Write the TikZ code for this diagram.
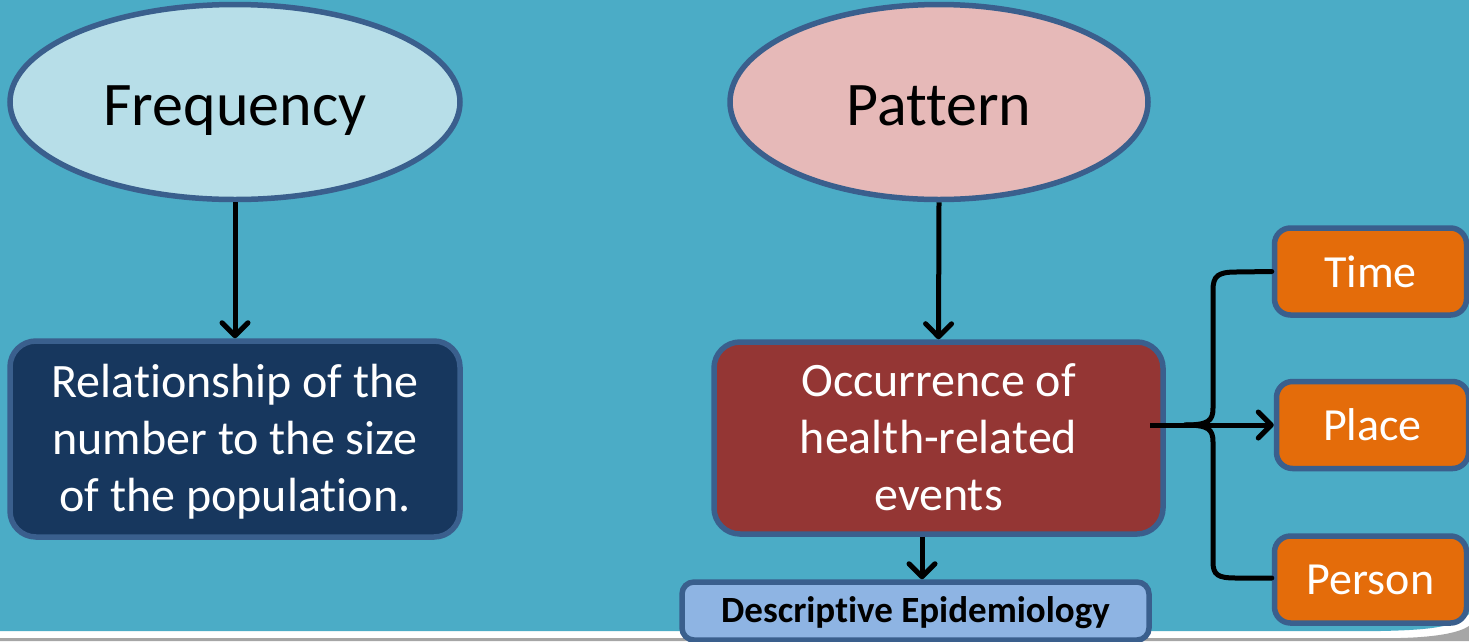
\documentclass[tikz,border=0pt]{standalone}
\usepackage{fontspec}
\setmainfont{Carlito}[Ligatures=NoCommon]
\usetikzlibrary{shapes.geometric,arrows.meta}
\definecolor{bg}{HTML}{4BACC6}
\definecolor{bord}{HTML}{3A5F8D}
\definecolor{freqfill}{HTML}{B7DEE8}
\definecolor{patfill}{HTML}{E6B9B8}
\definecolor{relfill}{HTML}{17375E}
\definecolor{occfill}{HTML}{943634}
\definecolor{descfill}{HTML}{8EB4E3}
\definecolor{orangefill}{HTML}{E46C0A}
\definecolor{grayline}{HTML}{A6A6A6}
\newcommand\shiftdown[2]{\raisebox{-#1}[\height][\depth]{\begin{tabular}{@{}c@{}}#2\end{tabular}}}
\begin{document}
\begin{tikzpicture}[x=1pt,y=-1pt,
  ell/.style={ellipse, draw=bord, line width=5.5pt, inner sep=0pt, text height=46pt, text depth=0pt, font=\fontsize{62}{74}\selectfont},
  rbox/.style={rectangle, rounded corners=26pt, draw=bord, line width=5.5pt, inner sep=0pt, align=center},
  obox/.style={rbox, fill=orangefill, rounded corners=16pt, minimum width=192pt, minimum height=87pt, text=white, font=\fontsize{46}{55}\selectfont},
  arr/.style={line width=5pt, -{Straight Barb[length=13pt,width=26pt,line cap=round,line join=round]}},
  brace/.style={line width=5pt, line cap=round}
]
\useasboundingbox (0,0) rectangle (1469,641);
% background
\fill[white] (0,0) rectangle (1469,641);
\fill[grayline] (0,638) -- (1400,638) .. controls (1440,637) and (1460,632) .. (1469,626) -- (1469,641) -- (0,641) -- cycle;
\fill[bg] (0,0) -- (1469,0) -- (1469,614) .. controls (1456,627) and (1430,630) .. (1380,631) -- (0,631) -- cycle;

% nodes
\node[ell, fill=freqfill, minimum width=450pt, minimum height=195pt] (freq) at (235,102) {Frequency};
\node[ell, fill=patfill, minimum width=418pt, minimum height=195pt] (pat) at (939,102) {Pattern};
\node[rbox, fill=relfill, text=white, minimum width=450pt, minimum height=196pt, font=\fontsize{48}{57}\selectfont] (rel) at (235,439) {\shiftdown{4pt}{Relationship of the\\number to the size\\of the population.}};
\node[rbox, fill=occfill, text=white, minimum width=449pt, minimum height=192pt, font=\fontsize{48}{57}\selectfont] (occ) at (938.5,438) {\shiftdown{4pt}{Occurrence of\\health-related\\events}};
\node[rbox, fill=descfill, rounded corners=12pt, minimum width=467pt, minimum height=58pt, font=\bfseries\fontsize{37}{44}\selectfont] (desc) at (915.5,611) {\shiftdown{3pt}{Descriptive Epidemiology}};
\node[obox] (time) at (1370.5,271.5) {Time};
\node[obox] (place) at (1372.5,425) {Place};
\node[obox] (person) at (1370.5,579.5) {Person};

% connectors
\draw[arr] (freq.south) -- (rel.north);
\draw[arr] (pat.south) -- (occ.north);
\draw[arr] ([xshift=-16.5pt]occ.south) -- ([xshift=-16.5pt]occ.south |- desc.north);
\coordinate (bs) at (1150,425);
\coordinate (bm) at (1185,425);
\draw[arr] (bs) -- (place.west);
\draw[brace] (bm) .. controls (1208,425) and (1213,421) .. (1213,408) -- (1213,290) .. controls (1213,276) and (1218,272) .. (1236,272) -- (time.west);
\draw[brace] (bm) .. controls (1208,425) and (1213,429) .. (1213,442) -- (1213,562) .. controls (1213,575) and (1218,578) .. (1236,578) -- (person.west |- 0,578);
\end{tikzpicture}
\end{document}
